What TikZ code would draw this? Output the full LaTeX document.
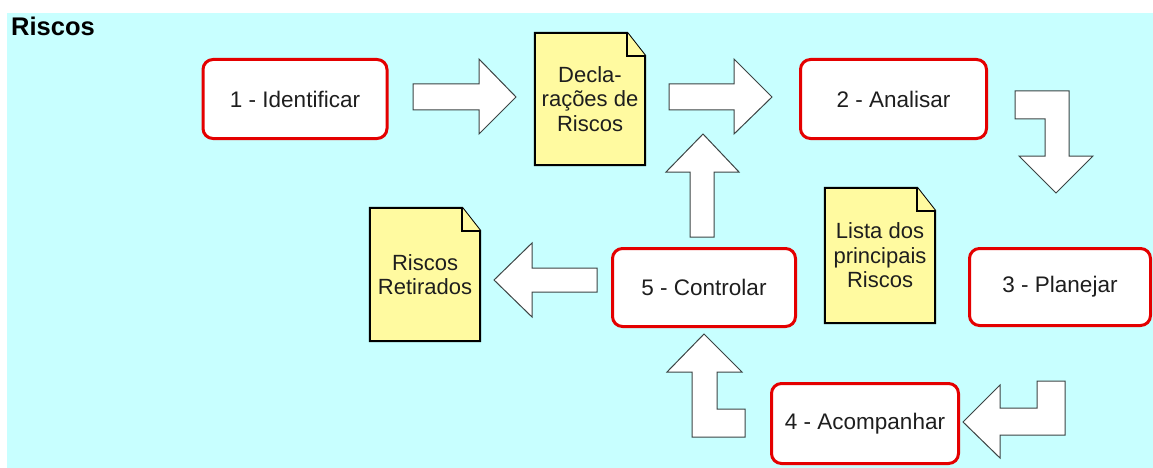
\documentclass[tikz,border=0pt]{standalone}
\usepackage{fontspec}
\setmainfont{Liberation Sans}
\usetikzlibrary{backgrounds}

\definecolor{bgcyan}{RGB}{200,255,255}
\definecolor{docyellow}{RGB}{255,250,160}
\definecolor{boxred}{RGB}{228,0,0}
\definecolor{arrowgray}{RGB}{60,68,68}
\definecolor{textgray}{RGB}{30,30,30}

\tikzset{
  stepbox/.style={draw=boxred, line width=3pt, fill=white, rounded corners=10pt,
    minimum width=184pt, minimum height=79pt, inner sep=0pt,
    text=textgray, font=\fontsize{22.5}{25}\selectfont},
  docnote/.style={minimum width=110pt, inner sep=0pt, align=center,
    text=textgray, font=\fontsize{22}{24.5}\selectfont},
  docpage/.style={draw=black, line width=2pt, fill=docyellow, line join=miter},
  blockarrow/.style={draw=arrowgray, line width=1pt, fill=white, line join=miter}
}

\begin{document}
\begin{tikzpicture}[x=1pt, y=-1pt]
\useasboundingbox (0,0) rectangle (1153,468);

% title
\node[anchor=base west, inner sep=0pt, font=\fontsize{25.5}{28}\selectfont\bfseries] (title) at (11,35.5) {Riscos};

% process steps
\node[stepbox] (ident) at (295,99) {1 - Identificar};
\node[stepbox, minimum width=186pt] (anal) at (893.5,99) {2 - Analisar};
\node[stepbox, minimum width=181pt, minimum height=77pt] (plan) at (1060,287) {3 - Planejar};
\node[stepbox, minimum width=187pt, minimum height=80pt] (acomp) at (865,423.5) {4 - Acompanhar};
\node[stepbox, minimum width=183pt, minimum height=78pt] (contr) at (704,287.5) {5 - Controlar};

% documents
\node[docnote, minimum height=132pt] (decl) at (590,99) {Decla-\\ra\c{c}\~oes de\\Riscos};
\node[docnote, minimum height=135pt] (lista) at (880,255.5) {Lista dos\\principais\\Riscos};
\node[docnote, minimum height=133pt] (retir) at (425,274.5) {Riscos\\Retirados};

\begin{scope}[on background layer]
  % background
  \fill[bgcyan] (7,13) rectangle (1153,468);
  % document pages with folded corner
  \foreach \d in {decl, lista, retir} {
    \filldraw[docpage] (\d.north west) -- ([xshift=-18pt]\d.north east)
      -- ([yshift=-23pt]\d.north east) -- (\d.south east) -- (\d.south west) -- cycle;
    \draw[docpage] ([xshift=-18pt]\d.north east) -- ([xshift=-18pt, yshift=-23pt]\d.north east)
      -- ([yshift=-23pt]\d.north east);
  }
\end{scope}

% block arrows
\draw[blockarrow] (413,84) -- (479,84) -- (479,59) -- (516,97) -- (479,134) -- (479,110) -- (413,110) -- cycle;
\draw[blockarrow] (669,84) -- (734,84) -- (734,59) -- (772,97) -- (734,134) -- (734,110) -- (669,110) -- cycle;
% bent down
\draw[blockarrow] (1015,91) -- (1069,91) -- (1069,156) -- (1093,156) -- (1056,193) -- (1019,156)
  -- (1045,156) -- (1045,119) -- (1015,119) -- cycle;
% bent left
\draw[blockarrow] (963,422) -- (1000,385) -- (1000,408) -- (1037,408) -- (1037,381) -- (1065,381)
  -- (1065,435) -- (1000,435) -- (1000,458) -- cycle;
% bent up
\draw[blockarrow] (704,334) -- (742,372) -- (717,372) -- (717,409) -- (745,409) -- (745,437)
  -- (692,437) -- (692,372) -- (667,372) -- cycle;
% up to declarations
\draw[blockarrow] (690,237) -- (690,172) -- (666,172) -- (703,134) -- (739,172) -- (714,172) -- (714,237) -- cycle;
% left to removed risks
\draw[blockarrow] (597,268) -- (532,268) -- (532,243) -- (494,280) -- (532,317) -- (532,292) -- (597,292) -- cycle;

\end{tikzpicture}
\end{document}
